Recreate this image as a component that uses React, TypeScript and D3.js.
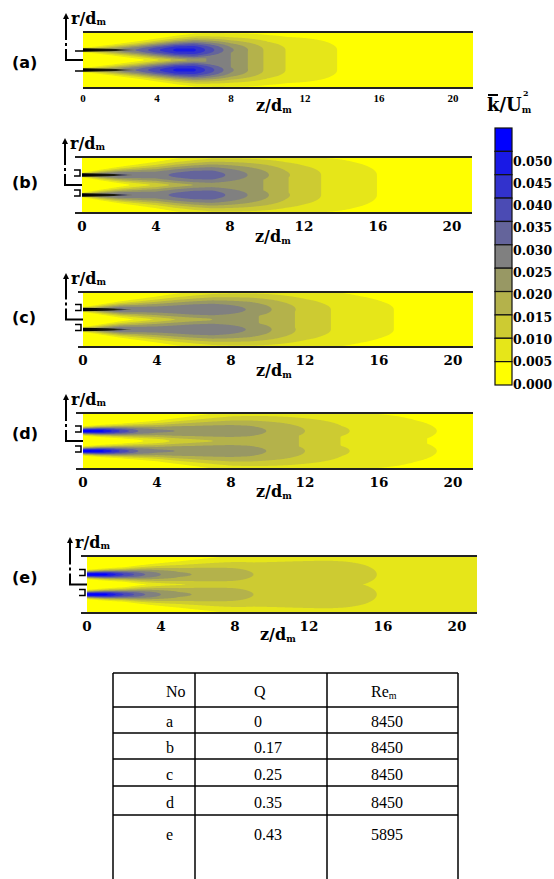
import React, { useEffect, useRef } from 'react';
import * as d3 from 'd3';

// stations along the jet (z/d_m) where the maps were read
const zStations = [0, 1, 2, 3, 4, 5, 6, 7, 8, 9, 10, 11, 12, 13, 14, 15, 16, 17, 18, 19, 20, 21];

// k/Um^2 on the jet line, on the axis, and the radial spread (px) for each case
const peakA = [0.015, 0.020, 0.026, 0.031, 0.039, 0.046, 0.046, 0.036, 0.026, 0.0195, 0.0135, 0.0098, 0.0082, 0.0064, 0.0045, 0.0036, 0.0030, 0.0026, 0.0023, 0.0020, 0.0018, 0.0016];
const axisA = [0, 0, 0, 0.003, 0.008, 0.014, 0.021, 0.027, 0.025, 0.0195, 0.0135, 0.0098, 0.0082, 0.0064, 0.0045, 0.0036, 0.0030, 0.0026, 0.0023, 0.0020, 0.0018, 0.0016];
const spreadA = [2, 3.5, 5, 6.5, 8, 9.5, 11, 12, 13, 14, 15, 16, 17, 18, 19, 20, 21, 21, 22, 22, 22, 22];

const peakB = [0.020, 0.028, 0.031, 0.029, 0.028, 0.031, 0.033, 0.033, 0.029, 0.0248, 0.0205, 0.0158, 0.0125, 0.0098, 0.0082, 0.0066, 0.0049, 0.0042, 0.0036, 0.0030, 0.0026, 0.0022];
const axisB = [0, 0, 0.002, 0.006, 0.012, 0.016, 0.020, 0.022, 0.023, 0.022, 0.0195, 0.0155, 0.0125, 0.0098, 0.0082, 0.0066, 0.0049, 0.0042, 0.0036, 0.0030, 0.0026, 0.0022];
const spreadB = [2, 4, 6, 8, 10, 12, 13.5, 15, 16, 17, 18, 19, 20, 21, 22, 22, 22, 22, 22, 22, 22, 22];

const peakC = [0.020, 0.027, 0.031, 0.028, 0.0275, 0.028, 0.029, 0.029, 0.027, 0.0245, 0.0208, 0.0168, 0.0132, 0.0108, 0.0088, 0.0072, 0.0058, 0.0048, 0.0040, 0.0034, 0.0029, 0.0025];
const axisC = [0, 0, 0.002, 0.006, 0.011, 0.015, 0.018, 0.020, 0.021, 0.021, 0.019, 0.0165, 0.0132, 0.0108, 0.0088, 0.0072, 0.0058, 0.0048, 0.0040, 0.0034, 0.0029, 0.0025];
const spreadC = [2, 4, 6, 8, 10, 12, 13.5, 15, 16, 17, 18, 19, 20, 21, 22, 22, 23, 23, 23, 23, 23, 23];

const peakD = [0.056, 0.052, 0.040, 0.030, 0.026, 0.025, 0.024, 0.0235, 0.023, 0.022, 0.0198, 0.0175, 0.0150, 0.0128, 0.0105, 0.0093, 0.0082, 0.0071, 0.0060, 0.0051, 0.0043, 0.0037];
const axisD = [0, 0, 0.001, 0.004, 0.008, 0.011, 0.013, 0.015, 0.016, 0.0165, 0.0165, 0.016, 0.0145, 0.0122, 0.0098, 0.0087, 0.0076, 0.0066, 0.0056, 0.0046, 0.0040, 0.0034];
const spreadD = [3, 4, 5, 6.5, 8, 10, 12, 14, 16, 17, 18, 19, 20, 21, 22, 23, 24, 25, 25, 25, 25, 25];

const peakE = [0.056, 0.052, 0.040, 0.031, 0.025, 0.021, 0.0195, 0.0185, 0.0172, 0.0150, 0.0142, 0.0138, 0.0134, 0.0130, 0.0122, 0.0110, 0.0095, 0.0086, 0.0080, 0.0075, 0.0070, 0.0066];
const axisE = [0, 0, 0, 0.003, 0.006, 0.008, 0.0095, 0.0105, 0.011, 0.0115, 0.012, 0.0122, 0.0122, 0.0120, 0.0108, 0.0098, 0.0090, 0.0083, 0.0078, 0.0073, 0.0068, 0.0064];
const spreadE = [3, 4, 5, 7, 9, 11, 13, 15, 17, 19, 21, 23, 25, 27, 29, 31, 33, 35, 35, 35, 35, 35];

// length of the dark potential core (z/d_m)
const coreLength = [2.8, 2.7, 2.6, 0, 0];

const caseIds = ['a', 'b', 'c', 'd', 'e'];
const levels = [0.005, 0.010, 0.015, 0.020, 0.025, 0.030, 0.035, 0.040, 0.045, 0.050];
const bandColors = ['#ffff00', '#e6e619', '#cdcb32', '#b4b24b', '#989864', '#808080', '#64649b', '#4b4bb4', '#3232cd', '#1919e6', '#0000ff'];
const colorbarValues = [0.050, 0.045, 0.040, 0.035, 0.030, 0.025, 0.020, 0.015, 0.010, 0.005, 0.000];
const zTicks = [0, 4, 8, 12, 16, 20];

const tableQ = ['0', '0.17', '0.25', '0.35', '0.43'];
const tableRe = ['8450', '8450', '8450', '8450', '5895'];

const Z_MAX = 21.08;
const JET_R = 10;
const NX = 390;

const layout = [
  { top: 32, bottom: 88, x0: 83, lineStart: 83, tickBase: 102, zBase: 111, labelY: 62, small: true },
  { top: 157, bottom: 213, x0: 82, lineStart: 75, tickBase: 231, zBase: 242, labelY: 182, small: false },
  { top: 292, bottom: 347, x0: 83, lineStart: 78, tickBase: 365, zBase: 376, labelY: 317, small: false },
  { top: 413, bottom: 469, x0: 83, lineStart: 76, tickBase: 487, zBase: 497, labelY: 433, small: false },
  { top: 556, bottom: 613, x0: 87, lineStart: 81, tickBase: 631, zBase: 640, labelY: 577, small: false },
];

const peaks = [peakA, peakB, peakC, peakD, peakE];
const axes = [axisA, axisB, axisC, axisD, axisE];
const spreads = [spreadA, spreadB, spreadC, spreadD, spreadE];

const SERIF_B = "'DejaVu Serif', serif";
const SANS_B = "'DejaVu Sans', sans-serif";
const TIMES = "'Liberation Serif', 'Times New Roman', serif";

export default function App() {
  const svgRef = useRef<SVGSVGElement | null>(null);

  useEffect(() => {
    if (!svgRef.current) return;
    const svg = d3.select(svgRef.current);
    svg.selectAll('*').remove();

    const defs = svg.append('defs');
    const fade = defs.append('linearGradient').attr('id', 'core-fade');
    fade.append('stop').attr('offset', '0%').attr('stop-color', '#000').attr('stop-opacity', 1);
    fade.append('stop').attr('offset', '65%').attr('stop-color', '#111100').attr('stop-opacity', 0.9);
    fade.append('stop').attr('offset', '100%').attr('stop-color', '#404010').attr('stop-opacity', 0.2);

    layout.forEach((p, k) => {
      const ny = p.bottom - p.top;
      const x = d3.scaleLinear().domain([0, Z_MAX]).range([p.x0, p.x0 + NX]);
      const pk = d3.scaleLinear().domain(zStations).range(peaks[k]).clamp(true);
      const ax = d3.scaleLinear().domain(zStations).range(axes[k]).clamp(true);
      const sp = d3.scaleLinear().domain(zStations).range(spreads[k]).clamp(true);

      const values: number[] = new Array(NX * ny);
      for (let j = 0; j < ny; j++) {
        const r = j + 0.5 - ny / 2;
        for (let i = 0; i < NX; i++) {
          const z = x.invert(p.x0 + i + 0.5);
          const d = Math.abs(Math.abs(r) - JET_R);
          const w = sp(z);
          let v = pk(z) * Math.exp(-(d * d) / (w * w));
          if (Math.abs(r) < JET_R) v = Math.max(v, ax(z));
          values[j * NX + i] = v;
        }
      }
      const bands = d3.contours().size([NX, ny]).thresholds(levels)(values);

      const g = svg.append('g').attr('transform', `translate(${p.x0},${p.top})`);
      g.append('rect').attr('width', NX).attr('height', ny).attr('fill', bandColors[0]);
      g.selectAll('path.band')
        .data(bands)
        .join('path')
        .attr('class', 'band')
        .attr('d', d3.geoPath())
        .attr('fill', d => bandColors[levels.indexOf(d.value) + 1]);

      // dark core right after the nozzles
      if (coreLength[k] > 0) {
        const L = coreLength[k];
        [-1, 1].forEach(s => {
          const yj = ny / 2 + s * JET_R;
          const area = d3.area<[number, number]>()
            .x(d => x(d[0]) - p.x0)
            .y0(d => yj - d[1])
            .y1(d => yj + d[1])
            .curve(d3.curveMonotoneX);
          g.append('path')
            .attr('d', area([[0, 1.8], [L * 0.5, 1.2], [L, 0.3]]))
            .attr('fill', 'url(#core-fade)');
        });
      }

      // frame lines
      [p.top, p.bottom].forEach(y => {
        svg.append('line')
          .attr('x1', p.lineStart).attr('x2', p.x0 + NX)
          .attr('y1', y).attr('y2', y)
          .attr('stroke', '#222').attr('stroke-width', 2);
      });

      // r axis sketch, nozzles
      const yc = (p.top + p.bottom) / 2;
      const axX = p.x0 - 17;
      const tip = p.top - 19;
      svg.append('path')
        .attr('d', `M${axX - 3},${tip + 6}L${axX},${tip}L${axX + 3},${tip + 6}Z`)
        .attr('fill', '#000');
      svg.append('line')
        .attr('x1', axX).attr('x2', axX).attr('y1', tip + 4).attr('y2', yc - 20)
        .attr('stroke', '#000').attr('stroke-width', 2);
      svg.append('rect')
        .attr('x', axX - 1).attr('y', yc - 17).attr('width', 2).attr('height', 3)
        .attr('fill', '#000');
      svg.append('path')
        .attr('d', `M${axX},${yc - 11}V${yc}H${p.x0}`)
        .attr('fill', 'none').attr('stroke', '#000').attr('stroke-width', 2);
      [-1, 1].forEach(s => {
        const yj = yc + s * JET_R;
        svg.append('path')
          .attr('d', p.small
            ? `M${p.x0 - 8},${yj + 1}H${p.x0}`
            : `M${p.x0 - 8},${yj - 5}H${p.x0 - 2}V${yj + 1}H${p.x0 - 8}`)
          .attr('fill', 'none').attr('stroke', '#000').attr('stroke-width', 1.5);
      });

      // texts
      svg.append('text')
        .attr('x', 12).attr('y', p.labelY + 6)
        .attr('font-family', SANS_B).attr('font-weight', 'bold').attr('font-size', 16)
        .text(`(${caseIds[k]})`);

      const rl = svg.append('text')
        .attr('x', axX + 5).attr('y', p.top - 8)
        .attr('font-family', SERIF_B).attr('font-weight', 'bold').attr('font-size', 16);
      rl.append('tspan').text('r/d');
      rl.append('tspan').attr('font-size', 9).attr('dy', 1).text('m');

      const zl = svg.append('text')
        .attr('x', p.x0 + 173).attr('y', p.zBase)
        .attr('font-family', SERIF_B).attr('font-weight', 'bold').attr('font-size', 16);
      zl.append('tspan').text('z/d');
      zl.append('tspan').attr('font-size', 9).attr('dy', 2).text('m');

      svg.selectAll(null)
        .data(zTicks)
        .join('text')
        .attr('x', d => x(d))
        .attr('y', p.tickBase)
        .attr('text-anchor', 'middle')
        .attr('font-family', p.small ? TIMES : SERIF_B)
        .attr('font-weight', 'bold')
        .attr('font-size', p.small ? 11 : 13.5)
        .text(d => d);
    });

    // colour bar
    const boxH = (385 - 128) / bandColors.length;
    const cb = svg.append('g');
    cb.selectAll('rect')
      .data(bandColors.slice().reverse())
      .join('rect')
      .attr('x', 495).attr('y', (_, i) => 128 + i * boxH)
      .attr('width', 17).attr('height', boxH)
      .attr('fill', d => d)
      .attr('stroke', '#111').attr('stroke-width', 1.2);
    const ly = d3.scaleLinear().domain([0.05, 0]).range([161, 384]);
    cb.selectAll('text')
      .data(colorbarValues)
      .join('text')
      .attr('x', 513).attr('y', d => ly(d) + 4.5)
      .attr('font-family', SERIF_B).attr('font-weight', 'bold').attr('font-size', 12.5)
      .text(d => d3.format('.3f')(d));

    const title = svg.append('text')
      .attr('x', 487).attr('y', 111)
      .attr('font-family', SERIF_B).attr('font-weight', 'bold').attr('font-size', 18);
    title.append('tspan').text('k/U');
    title.append('tspan').attr('font-size', 9).attr('dy', 2).text('m');
    svg.append('text')
      .attr('x', 523).attr('y', 96)
      .attr('font-family', SERIF_B).attr('font-weight', 'bold').attr('font-size', 8)
      .text('2');
    svg.append('line')
      .attr('x1', 488).attr('x2', 498).attr('y1', 95).attr('y2', 95)
      .attr('stroke', '#000').attr('stroke-width', 2);

    // table of cases
    const rowLines = [673, 707, 733, 759, 786, 815];
    const colLines = [113, 195, 327, 458];
    const tb = svg.append('g').attr('stroke', '#000').attr('stroke-width', 1.5);
    rowLines.forEach(y => {
      tb.append('line').attr('x1', colLines[0]).attr('x2', colLines[3]).attr('y1', y).attr('y2', y);
    });
    colLines.forEach(xx => {
      tb.append('line').attr('x1', xx).attr('x2', xx).attr('y1', rowLines[0]).attr('y2', 879);
    });
    const colX = [166, 254, 371];
    const rowY = [691, 721, 747, 774, 802, 834];
    const cell = (xx: number, y: number) => svg.append('text')
      .attr('x', xx).attr('y', y + 5.5)
      .attr('font-family', TIMES).attr('font-size', 16);
    cell(colX[0], rowY[0]).text('No');
    cell(colX[1], rowY[0]).text('Q');
    const re = cell(colX[2], rowY[0]);
    re.append('tspan').text('Re');
    re.append('tspan').attr('font-size', 10).attr('dy', 2).text('m');
    caseIds.forEach((id, i) => {
      cell(colX[0], rowY[i + 1]).text(id);
      cell(colX[1], rowY[i + 1]).text(tableQ[i]);
      cell(colX[2], rowY[i + 1]).text(tableRe[i]);
    });
  }, []);

  return (
    <svg
      ref={svgRef}
      width={554}
      height={879}
      style={{ position: 'absolute', left: 0, top: 0, background: '#fff' }}
    />
  );
}
